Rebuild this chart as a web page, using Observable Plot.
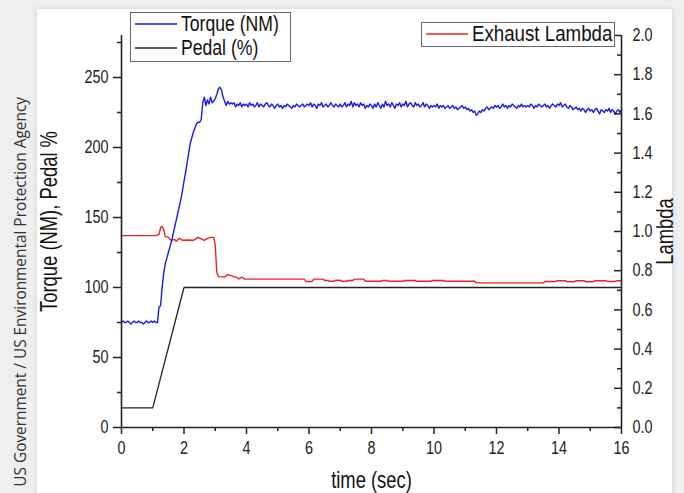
<!DOCTYPE html>
<html><head><meta charset="utf-8">
<script src="https://cdn.jsdelivr.net/npm/d3@7"></script>
<script src="https://cdn.jsdelivr.net/npm/@observablehq/plot@0.6"></script>
<style>
html,body{margin:0;padding:0;}
body{width:684px;height:493px;overflow:hidden;background:#efefef;position:relative;font-family:"Liberation Sans",Arial,sans-serif;}
#card{position:absolute;left:37px;top:9px;width:635px;height:500px;background:#fff;box-shadow:0 0 6px rgba(0,0,0,0.12);}
#chart{position:absolute;left:0;top:0;}
#credit{position:absolute;left:11px;top:97px;writing-mode:vertical-rl;transform:rotate(180deg);font-family:"Open Sans",sans-serif;font-size:15.4px;color:#333;white-space:nowrap;line-height:20px;}
.legend{position:absolute;background:#fff;border:1px solid #666;font-size:22px;color:#111;box-sizing:border-box;}
.item{position:absolute;left:4px;display:flex;align-items:center;white-space:nowrap;}
.item svg{display:block;margin-right:4px;}
.lbl{display:inline-block;transform:scaleX(0.8);transform-origin:0 50%;}
</style></head>
<body>
<div id="card"></div>
<div id="credit">US Government / US Environmental Protection Agency</div>
<div id="chart"></div>
<div class="legend" style="left:130px;top:12px;width:161px;height:50px;">
  <div class="item" style="top:-2px;height:26px;"><svg width="42" height="4"><line x1="0" x2="42" y1="2" y2="2" stroke="#1a1ae6" stroke-width="1.5"/></svg><span class="lbl">Torque (NM)</span></div>
  <div class="item" style="top:22px;height:26px;"><svg width="42" height="4"><line x1="0" x2="42" y1="2" y2="2" stroke="#222" stroke-width="1.5"/></svg><span class="lbl">Pedal (%)</span></div>
</div>
<div class="legend" style="left:421px;top:22px;width:194px;height:25px;">
  <div class="item" style="top:-1px;height:24px;"><svg width="42" height="4"><line x1="0" x2="42" y1="2" y2="2" stroke="#e8231f" stroke-width="1.5"/></svg><span class="lbl" style="transform:scaleX(0.85)">Exhaust Lambda</span></div>
</div>
<script>
// Torque (NM), sampled every 0.05 s, one row per second
const TORQUE_STEP = 0.05;
const torqueValues = [
  75,76,75,75,76,75,74,75,76,75,75,76,75,75,74,75,76,75,75,76,
  75,76,75,75,86,87,100,110,117,121,125,129,133,138,143,148,153,158,163,169,
  176,182,189,196,203,207,211,214,217,218,218,220,232,236,230,234,231,236,232,233,
  235,238,242,243,241,236,233,230,233,231,232,231,232,229,231,230,232,229,231,230,
  231,229,232,230,231,229,230,232,229,231,230,229,231,232,230,229,231,230,228,230,
  231,229,230,228,230,229,231,230,229,228,230,229,231,230,229,230,231,229,230,231,
  230,232,229,231,230,228,231,230,232,229,230,231,229,230,232,230,229,231,230,229,
  231,229,230,232,229,231,230,233,229,232,230,231,229,232,230,231,228,230,229,231,
  230,228,231,229,232,230,228,231,229,233,230,231,229,232,230,228,231,230,232,229,
  231,230,233,229,231,232,230,229,232,230,231,229,230,232,229,231,230,228,230,229,
  230,229,231,228,230,229,230,228,229,230,228,229,230,228,229,227,228,229,230,228,
  229,227,228,226,227,225,226,223,224,226,225,227,226,228,229,227,228,229,228,230,
  229,230,228,229,231,229,230,228,230,229,231,230,229,228,230,229,231,229,230,229,
  230,229,231,230,228,230,229,231,230,229,230,231,229,230,228,230,231,230,229,231,
  230,232,229,230,231,229,228,230,229,227,228,229,227,228,226,228,227,225,227,228,
  226,227,225,227,228,226,224,227,226,225,227,226,228,225,227,226,224,226,227,225,
  227
];

// Pedal (%)
const pedalTime  = [0, 1.0, 2.0, 16];
const pedalValue = [14, 14, 100, 100];

// Exhaust Lambda
const lambdaTime = [0, 1.1, 1.2, 1.25, 1.3, 1.35, 1.4, 1.5, 1.55, 1.6, 1.7, 1.75, 1.85, 1.95, 2.1, 2.3, 2.45, 2.55, 2.65, 2.75, 2.85, 2.95, 3.0, 3.05, 3.1, 3.3, 3.4, 3.5, 3.6, 3.7, 3.75, 3.85, 3.95,
  5.85, 5.9, 6.1, 6.15, 6.45, 6.5, 6.6, 6.65, 6.8, 6.85, 7.0, 7.05, 7.2, 7.25, 7.4, 7.45, 7.75, 7.8,
  8.3, 8.35, 8.5, 8.55, 9.0, 9.05, 9.4, 9.45, 9.9, 9.95, 10.3, 10.35, 11.3, 11.35, 13.5, 13.55,
  13.9, 13.95, 14.2, 14.25, 14.5, 14.55, 14.8, 14.85, 15.1, 15.15, 15.5, 15.55, 15.8, 15.85, 16];
const lambdaValue = [0.979, 0.979, 0.985, 1.02, 1.027, 1.01, 0.975, 0.97, 0.96, 0.955, 0.96, 0.95, 0.965, 0.955, 0.957, 0.955, 0.97, 0.962, 0.955, 0.965, 0.97, 0.97, 0.93, 0.79, 0.77, 0.768, 0.78, 0.775, 0.77, 0.765, 0.758, 0.767, 0.757,
  0.757, 0.745, 0.745, 0.757, 0.757, 0.75, 0.75, 0.746, 0.746, 0.751, 0.751, 0.746, 0.746, 0.75, 0.75, 0.757, 0.757, 0.746,
  0.746, 0.75, 0.75, 0.746, 0.746, 0.75, 0.75, 0.746, 0.746, 0.75, 0.75, 0.746, 0.746, 0.738, 0.738, 0.745,
  0.745, 0.749, 0.749, 0.744, 0.744, 0.749, 0.749, 0.744, 0.744, 0.749, 0.749, 0.745, 0.745, 0.749, 0.749];

// Axis ticks
const xTicks = [0, 2, 4, 6, 8, 10, 12, 14, 16];
const xMinor = [1, 3, 5, 7, 9, 11, 13, 15];
const leftTicks = [0, 50, 100, 150, 200, 250];
const leftMinor = [25, 75, 125, 175, 225, 275];
const rightTicks = [0, 0.2, 0.4, 0.6, 0.8, 1.0, 1.2, 1.4, 1.6, 1.8, 2.0];
const rightMinor = [0.1, 0.3, 0.5, 0.7, 0.9, 1.1, 1.3, 1.5, 1.7, 1.9];

const Y_MAX = 280, LAMBDA_MAX = 2.0;
const Y_PER_LAMBDA = Y_MAX / LAMBDA_MAX;

const torqueData = torqueValues.map((v, i) => ({t: i * TORQUE_STEP, v}));
const pedalData = pedalTime.map((t, i) => ({t, v: pedalValue[i]}));
const lambdaData = lambdaTime.map((t, i) => ({t, l: lambdaValue[i]}));

const axisColor = "#222";
const chart = Plot.plot({
  width: 684, height: 493,
  marginLeft: 121, marginRight: 63, marginTop: 35, marginBottom: 66,
  style: {background: "transparent", fontFamily: '"Liberation Sans",Arial,sans-serif', fontSize: "18px", color: "#222", overflow: "visible"},
  x: {domain: [0, 16]},
  y: {domain: [0, Y_MAX]},
  marks: [
    Plot.line(pedalData, {x: "t", y: "v", stroke: "#222", strokeWidth: 1.3}),
    Plot.line(lambdaData, {x: "t", y: d => d.l * Y_PER_LAMBDA, stroke: "#e8231f", strokeWidth: 1.4}),
    Plot.line(torqueData, {x: "t", y: "v", stroke: "#1a1ae6", strokeWidth: 1.4}),
    Plot.ruleX([0, 16], {y1: 0, y2: Y_MAX, stroke: axisColor, strokeWidth: 1.6}),
    Plot.ruleY([0], {x1: 0, x2: 16, stroke: axisColor, strokeWidth: 1.6}),
    Plot.axisX({ticks: xTicks, tickSize: 7, tickPadding: 7, label: null, stroke: axisColor, strokeWidth: 1.5}),
    Plot.axisX({ticks: xMinor, tickSize: 4, tickFormat: () => "", label: null, stroke: axisColor, strokeWidth: 1.5}),
    Plot.axisY({anchor: "left", ticks: leftTicks, tickSize: 8, tickPadding: 5, label: null, stroke: axisColor, strokeWidth: 1.5}),
    Plot.axisY({anchor: "left", ticks: leftMinor, tickSize: 4, tickFormat: () => "", label: null, stroke: axisColor, strokeWidth: 1.5}),
    Plot.axisY({anchor: "left", frameAnchor: "right", ticks: rightTicks.map(v => v * Y_PER_LAMBDA), tickSize: 7, tickFormat: () => "", label: null, stroke: axisColor, strokeWidth: 1.5}),
    Plot.axisY({anchor: "left", frameAnchor: "right", ticks: rightMinor.map(v => v * Y_PER_LAMBDA), tickSize: 4, tickFormat: () => "", label: null, stroke: axisColor, strokeWidth: 1.5}),
    Plot.axisY({anchor: "right", ticks: rightTicks.map(v => v * Y_PER_LAMBDA), tickSize: 0, tickPadding: 11, tickFormat: d => (d / Y_PER_LAMBDA).toFixed(1), label: null}),
    Plot.text(["time (sec)"], {text: d => d, frameAnchor: "bottom", dy: 53, lineAnchor: "middle", textAnchor: "middle", fontSize: 23, fill: "#111"}),
    Plot.text(["Torque (NM), Pedal %"], {text: d => d, frameAnchor: "left", dx: -72, dy: -10, rotate: -90, textAnchor: "middle", lineAnchor: "middle", fontSize: 23, fill: "#111"}),
    Plot.text(["Lambda"], {text: d => d, frameAnchor: "right", dx: 44, rotate: -90, textAnchor: "middle", lineAnchor: "middle", fontSize: 23, fill: "#111"})
  ]
});
// Narrow the glyphs horizontally (the reference uses a condensed sans-serif)
const SQUEEZE = 0.8;
chart.querySelectorAll("text").forEach(el => {
  const tr = el.getAttribute("transform") || "";
  el.setAttribute("transform", tr + ` scale(${SQUEEZE},1)`);
});
document.getElementById("chart").appendChild(chart);
</script>
</body></html>
